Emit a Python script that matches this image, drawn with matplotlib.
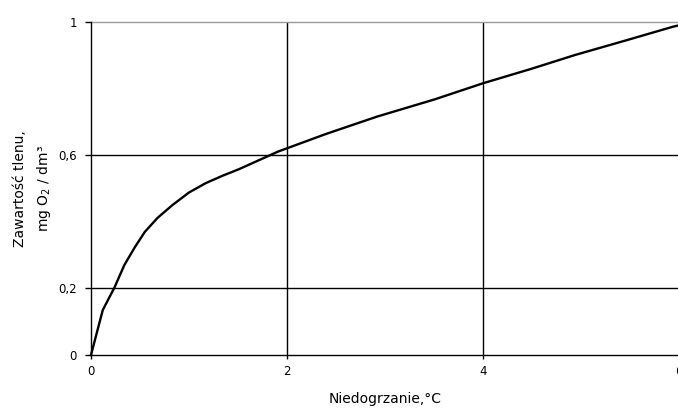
import matplotlib.pyplot as plt
from matplotlib.ticker import FixedLocator

niedogrzanie = [0, 0.12, 0.24, 0.34, 0.45, 0.55, 0.68, 0.83, 1.0, 1.17, 1.34, 1.51, 1.91, 2.4, 2.92, 3.5, 4.0, 4.5, 4.94, 5.45, 5.94, 6.0]
tlen = [0, 0.135, 0.203, 0.27, 0.325, 0.37, 0.412, 0.45, 0.488, 0.516, 0.538, 0.558, 0.611, 0.664, 0.716, 0.767, 0.816, 0.86, 0.901, 0.944, 0.986, 0.99]

x_ticks = [0, 2, 4, 6]
y_ticks = [0, 0.2, 0.6, 1]
y_tick_labels = ["0", "0,2", "0,6", "1"]

fig = plt.figure(figsize=(6.78, 4.12), dpi=100)
ax = fig.add_axes([91 / 678, 57 / 412, 588 / 678, 333 / 412])

ax.plot(niedogrzanie, tlen, color="black", linewidth=1.7, zorder=3, clip_on=False)

ax.set_xlim(0, 6)
ax.set_ylim(0, 1)
ax.xaxis.set_major_locator(FixedLocator(x_ticks))
ax.set_yticks(y_ticks)
ax.set_yticklabels(y_tick_labels)

for xv in [2, 4]:
    ax.axvline(xv, color="black", linewidth=1.0, zorder=1)
for yv in [0.2, 0.6]:
    ax.axhline(yv, color="black", linewidth=1.0, zorder=1)
ax.axhline(1, color="#999999", linewidth=1.0, zorder=1, clip_on=False)

for s in ["top", "right"]:
    ax.spines[s].set_visible(False)
ax.spines["left"].set_linewidth(1.0)
ax.spines["bottom"].set_linewidth(1.0)

ax.tick_params(axis="both", direction="out", length=4, width=1.0, labelsize=8.5, pad=6)
ax.tick_params(axis="x", length=3, pad=4)

ax.set_xlabel("Niedogrzanie,°C", fontsize=10, labelpad=10)
ax.set_ylabel("Zawartość tlenu,\nmg O$_2$ / dm³", fontsize=10, labelpad=4, linespacing=1.6)

fig.savefig("out.png", dpi=100)
